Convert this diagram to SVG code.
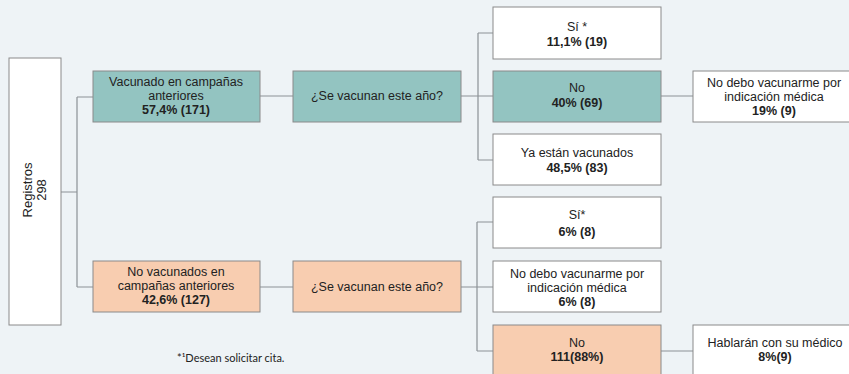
<svg xmlns="http://www.w3.org/2000/svg" width="849" height="374" viewBox="0 0 849 374">
<style>
.bg{fill:#eef3f6}
.box{stroke:#8a8a8a;stroke-width:1}
.w{fill:#ffffff}
.t{fill:#93c4c1}
.p{fill:#f8cdb0}
.c{fill:none;stroke:#8c9296;stroke-width:1.2}
text{font-family:"Liberation Sans",Arial,sans-serif;font-size:12.5px;fill:#222;text-anchor:middle}
.b{font-weight:bold}
.fn{font-family:Lato,"Open Sans",sans-serif;font-size:11px;text-anchor:start}
</style>
<rect class="bg" x="0" y="0" width="849" height="374"/>
<g id="connectors">
<path class="c" d="M61,192 H77 M77,97 V287 M77,97 H93 M77,287 H93"/>
<path class="c" d="M260,96 H293 M461,96 H493 M478,33 V160 M478,33 H493 M478,160 H493 M661,96 H693"/>
<path class="c" d="M260,287 H293 M461,287 H493 M477,222 V351 M477,222 H493 M477,351 H493 M661,351 H693"/>
</g>
<g id="registros">
<rect class="box w" x="9" y="58" width="52" height="267"/>
<g transform="translate(35,190) rotate(-90)"><text x="0" y="-3" style="font-size:13px">Registros</text><text x="0" y="11" style="font-size:13px">298</text></g>
</g>
<g id="vacunado">
<rect class="box t" x="93" y="71" width="167" height="51"/>
<text x="176" y="86">Vacunado en campañas</text><text x="176" y="100">anteriores</text><text class="b" x="176" y="114">57,4% (171)</text>
</g>
<g id="pregunta1">
<rect class="box t" x="293" y="71" width="168" height="51"/>
<text x="377" y="100">¿Se vacunan este año?</text>
</g>
<g id="si1">
<rect class="box w" x="493" y="7" width="168" height="52"/>
<text x="577" y="31">Sí *</text><text class="b" x="577" y="46">11,1% (19)</text>
</g>
<g id="no1">
<rect class="box t" x="493" y="71" width="168" height="51"/>
<text x="577" y="92">No</text><text class="b" x="577" y="107">40% (69)</text>
</g>
<g id="ya1">
<rect class="box w" x="493" y="134" width="168" height="51"/>
<text x="577" y="157">Ya están vacunados</text><text class="b" x="577" y="172">48,5% (83)</text>
</g>
<g id="nodebo1">
<rect class="box w" x="693" y="71" width="167" height="51"/>
<text x="774" y="87">No debo vacunarme por</text><text x="774" y="101">indicación médica</text><text class="b" x="774" y="115">19% (9)</text>
</g>
<g id="novacunados">
<rect class="box p" x="93" y="261" width="167" height="51"/>
<text x="176" y="276">No vacunados en</text><text x="176" y="290">campañas anteriores</text><text class="b" x="176" y="304">42,6% (127)</text>
</g>
<g id="pregunta2">
<rect class="box p" x="293" y="261" width="168" height="51"/>
<text x="377" y="291">¿Se vacunan este año?</text>
</g>
<g id="si2">
<rect class="box w" x="493" y="197" width="168" height="51"/>
<text x="577" y="219">Sí*</text><text class="b" x="577" y="236">6% (8)</text>
</g>
<g id="nodebo2">
<rect class="box w" x="493" y="261" width="168" height="51"/>
<text x="577" y="278">No debo vacunarme por</text><text x="577" y="292">indicación médica</text><text class="b" x="577" y="306">6% (8)</text>
</g>
<g id="no2">
<rect class="box p" x="493" y="325" width="168" height="52"/>
<text x="577" y="347">No</text><text class="b" x="577" y="361">111(88%)</text>
</g>
<g id="hablaran">
<rect class="box w" x="693" y="325" width="167" height="52"/>
<text x="775" y="347">Hablarán con su médico</text><text class="b" x="775" y="361">8%(9)</text>
</g>
<text class="fn" x="177" y="362">*¹Desean solicitar cita.</text>
</svg>
